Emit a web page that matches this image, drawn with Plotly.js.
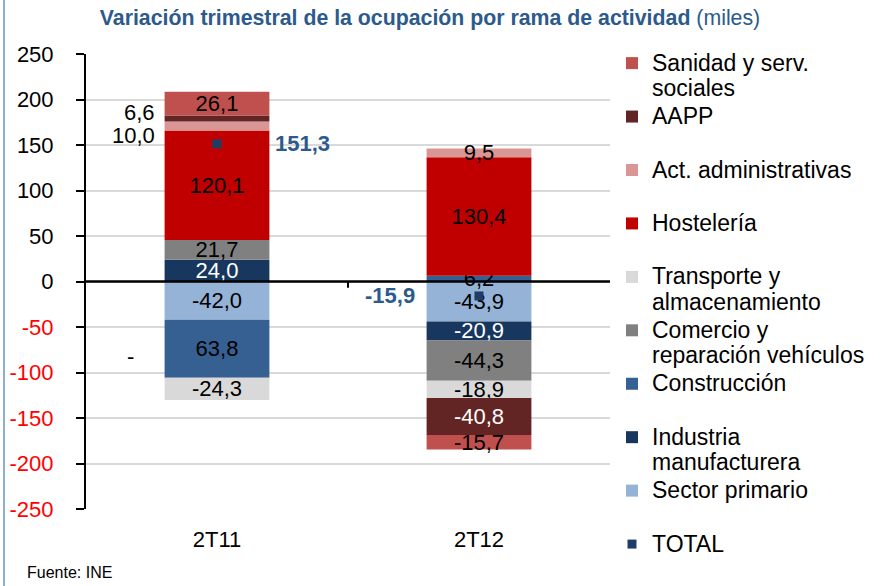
<!DOCTYPE html>
<html><head><meta charset="utf-8">
<script src="https://cdn.plot.ly/plotly-3.0.1.min.js"></script>
<style>html,body{margin:0;padding:0;background:#fff}#chart{width:895px;height:586px}</style>
</head><body><div id="chart"></div>
<script>
// ---- data ----
const categories = ['2T11', '2T12'];
const sectorPrimario = [-42.0, -43.9];
const industria = [24.0, -20.9];
const construccion = [-63.8, 6.2];
const comercio = [21.7, -44.3];
const transporte = [-24.3, -18.9];
const hosteleria = [120.1, 130.4];
const actAdministrativas = [10.0, 9.5];
const aapp = [6.6, -40.8];
const sanidad = [26.1, -15.7];
const total = [151.3, -15.9];
const yTickVals = [250, 200, 150, 100, 50, 0, -50, -100, -150, -200, -250];
const legendLines = [
  ['Sector primario'], ['Industria', 'manufacturera'], ['Construcción'],
  ['Comercio y', 'reparación vehículos'], ['Transporte y', 'almacenamiento'],
  ['Hostelería'], ['Act. administrativas'], ['AAPP'], ['Sanidad y serv.', 'sociales']
];
const totalName = 'TOTAL';

// ---- styles ----
const series = [sectorPrimario, industria, construccion, comercio, transporte, hosteleria, actAdministrativas, aapp, sanidad];
const colors = ['#95b3d7', '#17375e', '#376092', '#808080', '#d9d9d9', '#c00000', '#d99694', '#632523', '#c0504d'];
const labelColors = ['#000', '#fff', '#000', '#000', '#000', '#000', '#000', '#fff', '#000'];
const FONT = 'Liberation Sans, Arial, sans-serif';
const BLUE = '#2c5a8c';
const fmt = v => v.toFixed(1).replace('.', ',');
// labels drawn beside the bar instead of inside: [series, category, yshift]
const sideLabels = [[7, 0, 6], [6, 0, -9]];
// label whose sign is drawn apart from the number
const splitSign = [[2, 0]];

function segCenter(s, c) {
  const v = series[s][c];
  let base = 0;
  for (let k = 0; k < s; k++) {
    const w = series[k][c];
    if ((w >= 0) === (v >= 0)) base += w;
  }
  return base + v / 2;
}
function isIn(list, s, c) { return list.some(p => p[0] === s && p[1] === c); }
function legendName(lines) {
  const l = lines.length > 1 ? lines : [lines[0], '\u00a0'];
  return l.map(t => '<span style="font-size:23px">' + t + '</span>').join('<br>');
}

const traces = series.map((vals, s) => ({
  type: 'bar',
  name: legendName(legendLines[s]),
  x: categories,
  y: vals,
  width: 0.4,
  marker: {color: colors[s], line: {width: 0}},
  text: vals.map((v, c) => isIn(sideLabels, s, c) ? '' : (isIn(splitSign, s, c) ? fmt(Math.abs(v)) : fmt(v))),
  textposition: 'inside',
  insidetextanchor: 'middle',
  textangle: 0,
  textfont: {family: FONT, size: 22, color: labelColors[s]},
  cliponaxis: false,
  legendrank: 9 - s,
  hoverinfo: 'x+y'
}));
traces.push({
  type: 'scatter',
  mode: 'markers',
  name: legendName([totalName]),
  x: categories,
  y: total,
  marker: {symbol: 'square', size: 9, color: '#1f3d66'},
  legendrank: 10,
  cliponaxis: false
});

const annotations = [];
sideLabels.forEach(([s, c, ys]) => {
  annotations.push({x: categories[c], y: segCenter(s, c), xref: 'x', yref: 'y', text: fmt(series[s][c]),
    showarrow: false, xanchor: 'right', xshift: -60, yshift: ys, font: {family: FONT, size: 22, color: '#000'}});
});
splitSign.forEach(([s, c]) => {
  annotations.push({x: categories[c], y: segCenter(s, c), xref: 'x', yref: 'y', text: series[s][c] < 0 ? '-' : '',
    showarrow: false, xanchor: 'center', xshift: -87, yshift: -8, font: {family: FONT, size: 22, color: '#000'}});
});
total.forEach((v, c) => {
  annotations.push({x: categories[c], y: v, xref: 'x', yref: 'y', text: '<b>' + fmt(v) + '</b>',
    showarrow: false, xanchor: c === 0 ? 'left' : 'right', xshift: c === 0 ? 56 : -62,
    font: {family: FONT, size: 22, color: BLUE}});
});
annotations.push({xref: 'paper', yref: 'paper', x: (25 - 86) / 524, y: (509 - 572) / 455, xanchor: 'left', yanchor: 'middle',
  text: 'Fuente: INE', showarrow: false, font: {family: FONT, size: 16, color: '#000'}});

const layout = {
  width: 895, height: 586,
  margin: {l: 86, r: 285, t: 54, b: 77, autoexpand: false},
  paper_bgcolor: '#fff', plot_bgcolor: '#fff',
  font: {family: FONT, color: '#000'},
  barmode: 'relative',
  showlegend: true,
  title: {
    text: '<b>Variación trimestral de la ocupación por rama de actividad</b> <span style="font-weight:normal">(miles)</span>',
    font: {family: FONT, size: 21.3, color: BLUE},
    xref: 'container', x: 430 / 895, xanchor: 'center',
    yref: 'container', y: 1 - 18 / 586, yanchor: 'middle'
  },
  xaxis: {
    type: 'category', range: [-0.5, 1.5], showgrid: false, zeroline: false, showline: false,
    ticks: 'outside', ticklen: 11, tickcolor: 'rgba(0,0,0,0)',
    tickfont: {family: FONT, size: 22, color: '#000'}, fixedrange: true
  },
  yaxis: {
    range: [-250, 250], tickvals: yTickVals,
    ticktext: yTickVals.map(v => v < 0 ? '<span style="color:#ff0000">' + v + '</span>' : String(v)),
    tickfont: {family: FONT, size: 22, color: '#000'},
    showgrid: true, gridcolor: '#d9d9d9', gridwidth: 2,
    zeroline: false, showline: true, linecolor: '#000', linewidth: 2,
    ticks: 'outside', ticklen: 8, tickwidth: 2, tickcolor: '#000',
    ticklabelstandoff: 18, fixedrange: true
  },
  legend: {
    x: (612 - 86) / 524, xanchor: 'left', y: (509 - 44) / 455, yanchor: 'top',
    font: {family: FONT, size: 19.4, color: '#000'}, valign: 'top', maxheight: 586,
    bgcolor: 'rgba(0,0,0,0)', borderwidth: 0, traceorder: 'normal', tracegroupgap: 0
  },
  uniformtext: {mode: 'show', minsize: 22},
  shapes: [
    {type: 'line', xref: 'paper', yref: 'y', x0: 0, x1: 1, y0: 0, y1: 0, line: {color: '#000', width: 2.5}, layer: 'above'},
    {type: 'line', xref: 'paper', yref: 'y', x0: 0.5, x1: 0.5, y0: 0, y1: -7, line: {color: '#000', width: 2}, layer: 'above'},
    {type: 'line', xref: 'paper', yref: 'paper', x0: (4 - 86) / 524, x1: (4 - 86) / 524, y0: (509 - 586) / 455, y1: 509 / 455,
      line: {color: '#8fb0d0', width: 2}, layer: 'above'}
  ],
  annotations: annotations
};

Plotly.newPlot('chart', traces, layout, {displayModeBar: false, responsive: false});
</script>
</body></html>
